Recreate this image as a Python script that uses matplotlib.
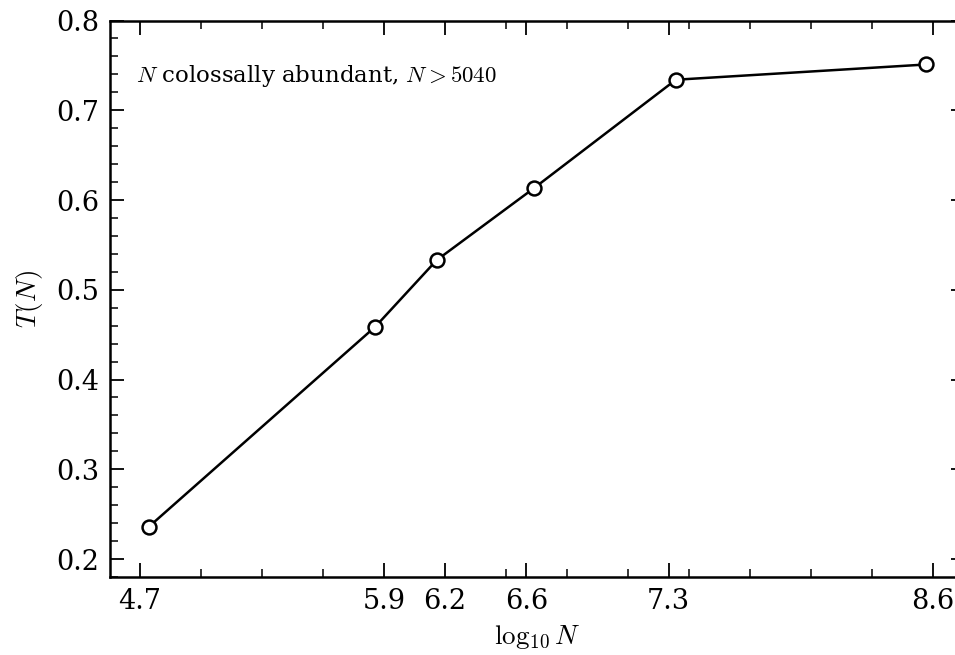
import numpy as np
import matplotlib
matplotlib.use('Agg')
import matplotlib.pyplot as plt
from matplotlib.ticker import AutoMinorLocator

plt.rcParams['font.family'] = ['DejaVu Serif']
plt.rcParams['mathtext.fontset'] = 'cm'

# colossally abundant numbers above 5040
N = [55440, 720720, 1441440, 4324320, 21621600, 367567200]
T = [0.236, 0.459, 0.533, 0.613, 0.734, 0.751]
tick_vals = [4.7, 5.9, 6.2, 6.6, 7.3, 8.6]
tick_labels = ['4.7', '5.9', '6.2', '6.6', '7.3', '8.6']

logN = np.log10(N)

fig = plt.figure(figsize=(9.55, 6.55), dpi=100)
ax = fig.add_axes([110/955, 78/655, 855/955, 556.5/655])

ax.plot(logN, T, '-', color='k', lw=1.8, marker='o', markersize=10,
        markerfacecolor='white', markeredgecolor='k', markeredgewidth=1.8)

ax.set_ylim(0.18, 0.8)
ax.set_xticks(tick_vals, labels=tick_labels)
ax.set_yticks([0.2, 0.3, 0.4, 0.5, 0.6, 0.7, 0.8])
ax.xaxis.set_minor_locator(AutoMinorLocator())
ax.yaxis.set_minor_locator(AutoMinorLocator())

ax.tick_params(which='both', direction='in', top=True, right=True,
               labelsize=19.5)
ax.tick_params(which='major', length=10, width=1.3, pad=8)
ax.tick_params(which='minor', length=6, width=1.1)
for s in ax.spines.values():
    s.set_linewidth(1.8)

ax.set_xlabel(r'$\log_{10} N$', fontsize=19.5, labelpad=6)
ax.set_ylabel(r'$T(N)$', fontsize=19.5, labelpad=8)

ax.text(0.03, 0.9, r'$N$ colossally abundant, $N > 5040$',
        transform=ax.transAxes, fontsize=16.5, va='center')

plt.savefig('out.png', dpi=100)
